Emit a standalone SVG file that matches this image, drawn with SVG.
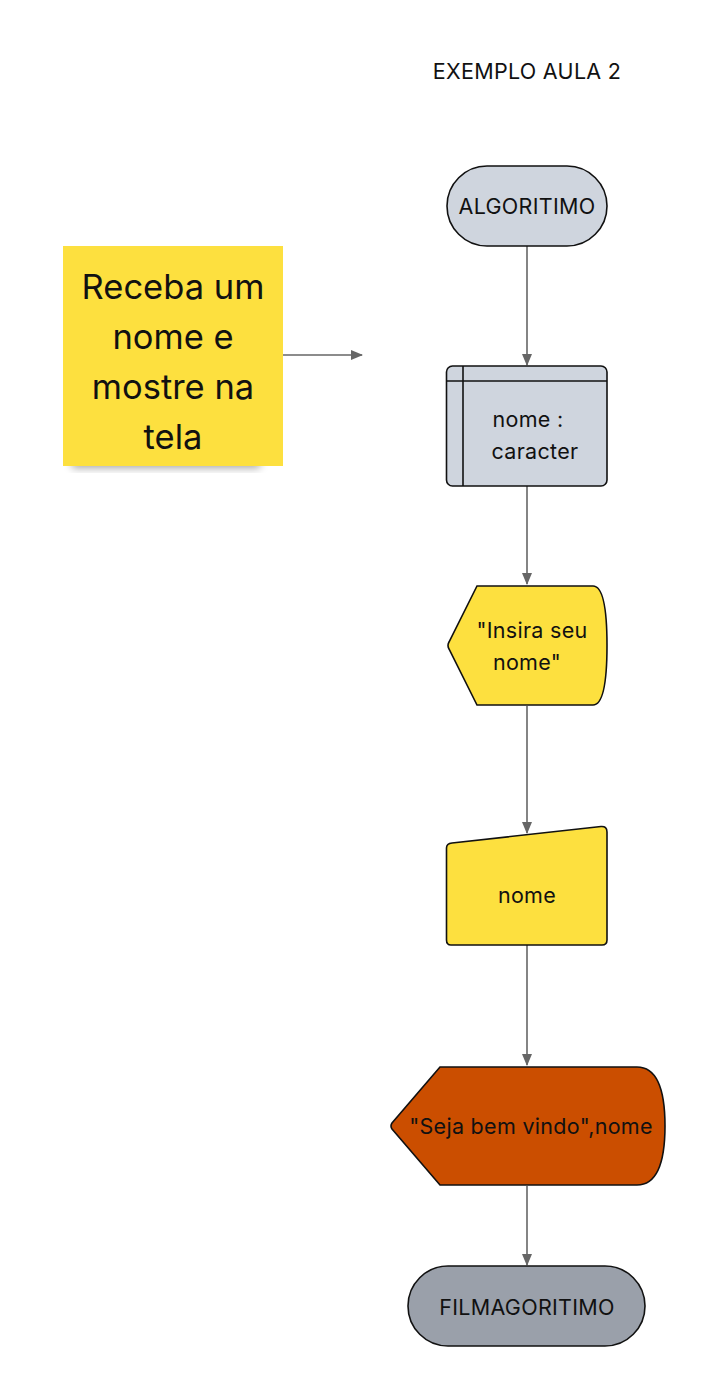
<svg xmlns="http://www.w3.org/2000/svg" width="705" height="1386" viewBox="0 0 705 1386">
<defs>
<style>
text{font-family:Inter,"Liberation Sans",sans-serif;fill:#111;text-anchor:middle;dominant-baseline:central}
.n{stroke:#111;stroke-width:1.6}
.c{stroke:#666;stroke-width:1.6;fill:none;marker-end:url(#ah)}
.t{font-size:21.5px;letter-spacing:0.3px}
.s{font-size:34.5px}
</style>
<marker id="ah" markerWidth="12" markerHeight="10" refX="11" refY="5" orient="auto" markerUnits="userSpaceOnUse">
<path d="M0,0 L12,5 L0,10 z" fill="#666"/>
</marker>
<filter id="sh" x="-20%" y="-20%" width="140%" height="150%">
<feGaussianBlur stdDeviation="4"/>
</filter>
</defs>
<rect width="705" height="1386" fill="#fff"/>
<text class="t" x="527" y="71">EXEMPLO AULA 2</text>
<g id="connectors">
<line class="c" x1="527" y1="246" x2="527" y2="365"/>
<line class="c" x1="527" y1="486" x2="527" y2="584"/>
<line class="c" x1="527" y1="706" x2="527" y2="833"/>
<line class="c" x1="527" y1="945" x2="527" y2="1065"/>
<line class="c" x1="527" y1="1186" x2="527" y2="1265"/>
<line class="c" x1="283" y1="355" x2="362" y2="355"/>
</g>
<g id="note">
<rect x="72" y="452" width="188" height="16" fill="#000" opacity="0.35" filter="url(#sh)"/>
<rect x="63" y="246" width="220" height="220" fill="#fde03f"/>
<text class="s" x="173" y="286">Receba um</text>
<text class="s" x="173" y="336">nome e</text>
<text class="s" x="173" y="386">mostre na</text>
<text class="s" x="173" y="436">tela</text>
</g>
<g id="start">
<rect class="n" x="447" y="166" width="160" height="80" rx="40" fill="#cfd5de"/>
<text class="t" x="527" y="206">ALGORITIMO</text>
</g>
<g id="decl">
<rect class="n" x="446.5" y="366" width="160.5" height="120" rx="6" fill="#cfd5de"/>
<line class="n" x1="446.5" y1="381" x2="607" y2="381"/>
<line class="n" x1="463" y1="366" x2="463" y2="486"/>
<text class="t" x="528" y="419">nome :</text>
<text class="t" x="535" y="451">caracter</text>
</g>
<g id="display1">
<path class="n" d="M477,586 L593,586 Q607,586 607,645.5 Q607,705 593,705 L477,705 L449,649 Q447,645.5 449,642 Z" fill="#fde03f"/>
<text class="t" x="532" y="630">"Insira seu</text>
<text class="t" x="527" y="662">nome"</text>
</g>
<g id="input">
<path class="n" d="M452,843 L601,826.5 Q607,826 607,832 L607,940 Q607,945 602,945 L451,945 Q446.5,945 446.5,940 L446.5,848 Q446.5,843.5 452,843 Z" fill="#fde03f"/>
<text class="t" x="527" y="895">nome</text>
</g>
<g id="display2">
<path class="n" d="M440,1067 L637,1067 Q665,1067 665,1126 Q665,1185 637,1185 L440,1185 L392,1129 Q390,1126 392,1123 Z" fill="#cb4e00"/>
<text class="t" x="531" y="1126">"Seja bem vindo",nome</text>
</g>
<g id="end">
<rect class="n" x="408" y="1266" width="237" height="80" rx="40" fill="#9aa0aa"/>
<text class="t" x="527" y="1307">FILMAGORITIMO</text>
</g>
</svg>
